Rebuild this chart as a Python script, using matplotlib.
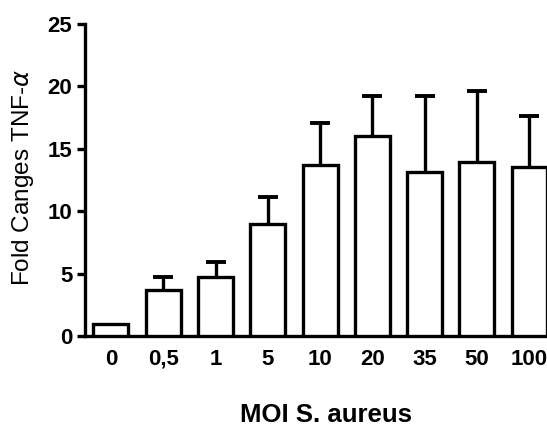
import numpy as np
import matplotlib.pyplot as plt

plt.rcParams["font.family"] = ["Liberation Sans", "DejaVu Sans"]

categories = ["0", "0,5", "1", "5", "10", "20", "35", "50", "100"]
fold_change = [1.0, 3.7, 4.7, 9.0, 13.7, 16.0, 13.1, 13.9, 13.5]
sem_upper = [0.0, 1.0, 1.2, 2.1, 3.4, 3.2, 6.1, 5.7, 4.1]

fig = plt.figure(figsize=(5.47, 4.26), dpi=100)
ax = fig.add_axes([0.155, 0.211, 0.845, 0.733])

x = np.arange(len(categories))
y = np.array(fold_change)
err = np.array(sem_upper)
lw = 2.4
ax.bar(x, y, width=0.67, color="white", edgecolor="black",
       linewidth=lw, zorder=3)
# control (MOI 0) has no error bar
m = err > 0
eb = ax.errorbar(x[m], y[m], yerr=[np.zeros(m.sum()), err[m]], fmt="none",
                 ecolor="black", elinewidth=lw, capsize=7, capthick=lw + 0.4,
                 zorder=2)
# only the upper cap is wanted (one-sided SEM)
eb[1][0].set_visible(False)

ax.set_xlim(-0.5, 8.34)
ax.set_ylim(0, 25)
ax.set_yticks([0, 5, 10, 15, 20, 25])
ax.set_xticks(x)
ax.set_xticklabels(categories)

for s in ["top", "right"]:
    ax.spines[s].set_visible(False)
for s in ["left", "bottom"]:
    ax.spines[s].set_linewidth(lw)

ax.tick_params(axis="y", length=6, width=lw, labelsize=16, pad=3)
ax.tick_params(axis="x", length=0, labelsize=16, pad=9)
for lab in ax.get_xticklabels() + ax.get_yticklabels():
    lab.set_fontweight("bold")

fig.text(0.042, 0.583, "Fold Canges TNF-$\\alpha$", fontsize=17.5,
         rotation=90, ha="center", va="center")
fig.text(0.596, 0.026, "MOI S. aureus", fontsize=18.5, fontweight="bold",
         ha="center", va="center")

fig.savefig("out.png", dpi=100)
